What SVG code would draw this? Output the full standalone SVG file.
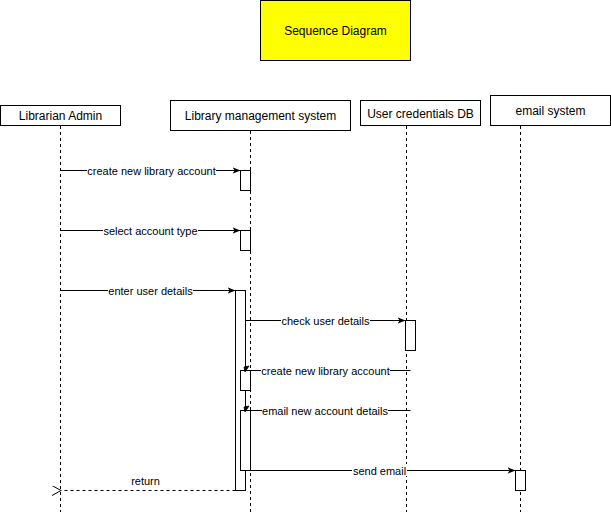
<svg xmlns="http://www.w3.org/2000/svg" width="611" height="512" viewBox="0 0 611 512">
<defs>
<marker id="arr" viewBox="0 0 10 10" refX="10" refY="5" markerWidth="8" markerHeight="8" markerUnits="userSpaceOnUse" orient="auto">
<path d="M0,1 L10,5 L0,9 L2.5,5 Z" fill="#000"/>
</marker>
<marker id="open" viewBox="0 0 10 10" refX="1" refY="5" markerWidth="10" markerHeight="10" markerUnits="userSpaceOnUse" orient="auto-start-reverse">
<path d="M10,0 L1,5 L10,10" fill="none" stroke="#000" stroke-width="1"/>
</marker>
</defs>
<style>
text{font-family:"Liberation Sans",Arial,sans-serif;fill:#000}
.box{fill:#fff;stroke:#000;stroke-width:1}
.lbl{font-size:12px;text-anchor:middle}
.life{stroke:#000;stroke-width:1;stroke-dasharray:3 3;fill:none}
.act{fill:#fff;stroke:#000;stroke-width:1}
.msg{stroke:#000;stroke-width:1;fill:none}
.ret{stroke:#000;stroke-width:1;fill:none;stroke-dasharray:3 3}
.el{font-size:11px;text-anchor:middle}
.bg{fill:#fff}
</style>
<rect width="611" height="512" fill="#fff"/>
<g id="title">
<rect x="260.5" y="0.5" width="150" height="60" fill="#ffff00" stroke="#000"/>
<text class="lbl" x="335.5" y="35">Sequence Diagram</text>
</g>
<g id="librarian">
<rect class="box" x="0.5" y="105.5" width="120" height="20"/>
<text class="lbl" x="60.5" y="120">Librarian Admin</text>
<line class="life" x1="60.5" y1="126" x2="60.5" y2="512"/>
</g>
<g id="lms">
<rect class="box" x="170.5" y="100.5" width="180" height="30"/>
<text class="lbl" x="260.5" y="120">Library management system</text>
<line class="life" x1="250.5" y1="131" x2="250.5" y2="512"/>
</g>
<g id="db">
<rect class="box" x="360.5" y="100.5" width="120" height="25"/>
<text class="lbl" x="420.5" y="118">User credentials DB</text>
<line class="life" x1="406.5" y1="126" x2="406.5" y2="512"/>
</g>
<g id="email">
<rect class="box" x="490.5" y="95.5" width="120" height="30"/>
<text class="lbl" x="550.5" y="115">email system</text>
<line class="life" x1="520.5" y1="126" x2="520.5" y2="512"/>
</g>
<g id="activations">
<rect class="act" x="240.5" y="170.5" width="10" height="20"/>
<rect class="act" x="240.5" y="230.5" width="10" height="20"/>
<rect class="act" x="235.5" y="290.5" width="10" height="200"/>
<rect class="act" x="405.5" y="320.5" width="10" height="30"/>
<rect class="act" x="240.5" y="370.5" width="10" height="20"/>
<rect class="act" x="240.5" y="410.5" width="10" height="60"/>
<rect class="act" x="515.5" y="470.5" width="10" height="20"/>
</g>
<g id="connectors">
<line class="msg" x1="60.5" y1="170.5" x2="240.5" y2="170.5" marker-end="url(#arr)"/>
<rect class="bg" x="87" y="164" width="129" height="12"/>
<text class="el" x="151.5" y="174.5">create new library account</text>

<line class="msg" x1="60.5" y1="230.5" x2="240.5" y2="230.5" marker-end="url(#arr)"/>
<rect class="bg" x="103" y="224" width="95" height="12"/>
<text class="el" x="150.5" y="234.5">select account type</text>

<line class="msg" x1="60.5" y1="290.5" x2="235.5" y2="290.5" marker-end="url(#arr)"/>
<rect class="bg" x="108" y="284" width="85" height="12"/>
<text class="el" x="150.5" y="294.5">enter user details</text>

<line class="msg" x1="245.5" y1="320.5" x2="405.5" y2="320.5" marker-end="url(#arr)"/>
<rect class="bg" x="281" y="314" width="89" height="12"/>
<text class="el" x="325.5" y="324.5">check user details</text>

<line class="msg" x1="410.5" y1="370.5" x2="250.5" y2="370.5"/>
<path d="M249,366 L245,372 L244,367 Z" fill="#000" stroke="#000" stroke-width="0.8"/>
<rect class="bg" x="261" y="364" width="129" height="12"/>
<text class="el" x="325.5" y="374.5">create new library account</text>

<line class="msg" x1="410.5" y1="410.5" x2="250.5" y2="410.5"/>
<path d="M249,406 L245,412 L244,407 Z" fill="#000" stroke="#000" stroke-width="0.8"/>
<rect class="bg" x="262" y="404" width="126" height="12"/>
<text class="el" x="325" y="414.5">email new account details</text>

<line class="msg" x1="250.5" y1="470.5" x2="515.5" y2="470.5" marker-end="url(#arr)"/>
<rect class="bg" x="352" y="464" width="55" height="12"/>
<text class="el" x="379.5" y="474.5">send email</text>

<line class="ret" x1="235.5" y1="490.5" x2="61" y2="490.5" marker-end="url(#open)"/>
<text class="el" x="145.5" y="485">return</text>
</g>
</svg>
